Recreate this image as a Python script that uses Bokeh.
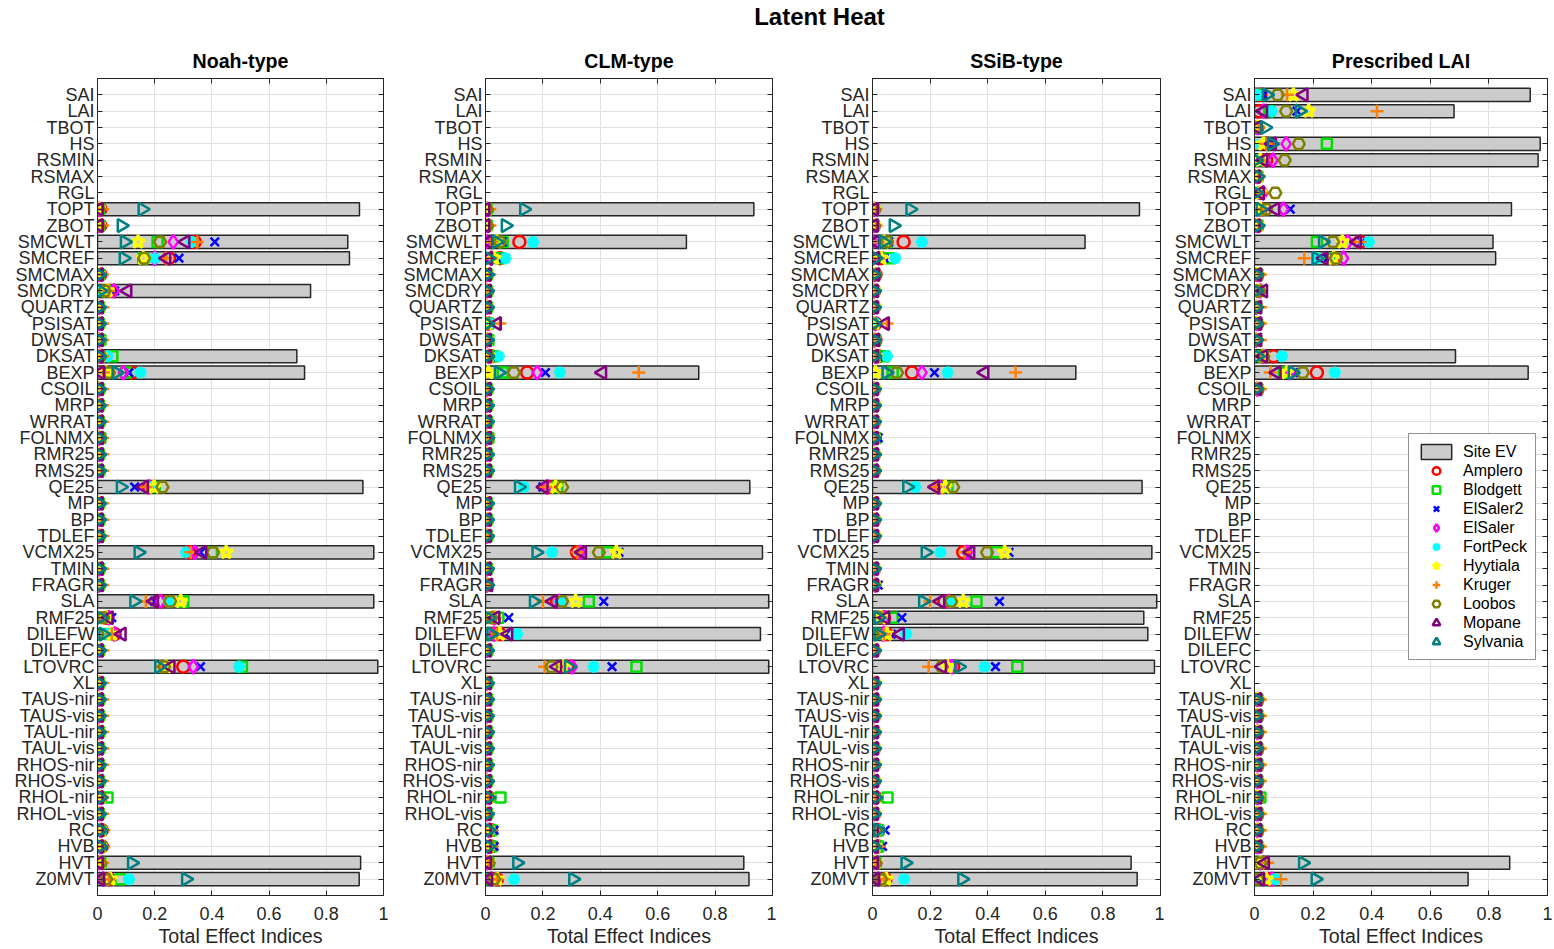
import math
from bokeh.plotting import figure
from bokeh.layouts import row, column
from bokeh.models import (Range1d, FactorRange, FixedTicker, CategoricalAxis, LinearAxis,
                          CustomJSTickFormatter, Legend, LegendItem, Label)
from bokeh.embed import file_html
from bokeh.resources import INLINE

NA = float("nan")

PARAMS = ["SAI", "LAI", "TBOT", "HS", "RSMIN", "RSMAX", "RGL",
          "TOPT", "ZBOT", "SMCWLT", "SMCREF", "SMCMAX", "SMCDRY", "QUARTZ",
          "PSISAT", "DWSAT", "DKSAT", "BEXP", "CSOIL", "MRP", "WRRAT",
          "FOLNMX", "RMR25", "RMS25", "QE25", "MP", "BP", "TDLEF",
          "VCMX25", "TMIN", "FRAGR", "SLA", "RMF25", "DILEFW", "DILEFC",
          "LTOVRC", "XL", "TAUS-nir", "TAUS-vis", "TAUL-nir", "TAUL-vis", "RHOS-nir",
          "RHOS-vis", "RHOL-nir", "RHOL-vis", "RC", "HVB", "HVT", "Z0MVT"]

SITES = ["Amplero", "Blodgett", "ElSaler2", "ElSaler", "FortPeck",
         "Hyytiala", "Kruger", "Loobos", "Mopane", "Sylvania"]
PANELS = ["Noah-type", "CLM-type", "SSiB-type", "Prescribed LAI"]
X_TICKS = [0, 0.2, 0.4, 0.6, 0.8, 1]

# ---------------- Noah-type ----------------
noah_ev = [NA, NA, NA, NA, NA, NA, NA,
           .916, NA, .875, .881, NA, .745, NA,
           NA, NA, .697, .724, NA, NA, NA,
           NA, NA, NA, .928, NA, NA, NA,
           .966, NA, NA, .966, NA, NA, NA,
           .980, NA, NA, NA, NA, NA, NA,
           NA, NA, NA, NA, NA, .920, .915]
noah_amplero = [NA, NA, NA, NA, NA, NA, NA,
                .010, .010, .340, .250, .010, .045, .005,
                .005, .005, .010, .120, .005, .005, .005,
                .005, .005, .005, .180, .005, .005, .005,
                .320, .005, .005, .220, .030, .060, .005,
                .300, .005, .005, .005, .005, .005, .005,
                .005, .010, .005, .015, .015, .010, .040]
noah_blodgett = [NA, NA, NA, NA, NA, NA, NA,
                 .005, .005, .210, .160, .005, .030, .005,
                 .005, .010, .052, .100, .005, .005, .005,
                 .010, .005, .005, .200, .005, .005, .005,
                 .400, .005, .005, .300, .020, .040, .005,
                 .505, .005, .005, .005, .005, .005, .005,
                 .005, .035, .005, .010, .010, .010, .080]
noah_elsaler2 = [NA, NA, NA, NA, NA, NA, NA,
                 .005, .005, .410, .285, .005, .060, .005,
                 .005, .005, .010, .110, .005, .005, .005,
                 .005, .005, .005, .130, .005, .005, .005,
                 .360, .005, .005, .200, .050, .070, .005,
                 .360, .005, .005, .005, .005, .005, .005,
                 .005, .010, .005, .015, .015, .010, .020]
noah_elsaler = [NA, NA, NA, NA, NA, NA, NA,
                .005, .005, .265, .200, .005, .058, .005,
                .005, .005, .010, .090, .005, .005, .005,
                .005, .005, .005, .180, .005, .005, .005,
                .340, .005, .005, .220, .040, .060, .005,
                .335, .005, .005, .005, .005, .005, .005,
                .005, .010, .005, .010, .010, .005, .020]
noah_fortpeck = [NA, NA, NA, NA, NA, NA, NA,
                 .005, .005, .330, .200, .005, .005, .005,
                 .005, .005, .035, .150, .005, .005, .005,
                 .005, .005, .005, .190, .005, .005, .005,
                 .310, .005, .005, .250, .030, .035, .005,
                 .495, .005, .005, .005, .005, .005, .005,
                 .005, .010, .005, .015, .010, .010, .110]
noah_hyytiala = [NA, NA, NA, NA, NA, NA, NA,
                 .005, .005, .142, .160, .005, .035, .005,
                 .005, .005, .010, .030, .005, .005, .005,
                 .005, .005, .005, .198, .005, .005, .005,
                 .450, .005, .005, .291, .030, .050, .005,
                 .240, .005, .005, .005, .005, .005, .005,
                 .005, .010, .005, .010, .010, .010, .045]
noah_kruger = [NA, NA, NA, NA, NA, NA, NA,
               .018, .018, .349, .240, .018, .040, .018,
               .018, .018, .018, .020, .018, .018, .018,
               .018, .018, .018, .170, .018, .018, .018,
               .326, .018, .018, .169, .020, .050, .018,
               .220, .018, .018, .018, .018, .018, .018,
               .018, .018, .018, .022, .022, .018, .040]
noah_loobos = [NA, NA, NA, NA, NA, NA, NA,
               .005, .005, .219, .163, .005, .025, .005,
               .005, .005, .010, .040, .005, .005, .005,
               .010, .005, .005, .227, .005, .005, .005,
               .404, .005, .005, .254, .020, .000, .005,
               .233, .005, .005, .005, .005, .005, .005,
               .005, .010, .005, .010, .010, .010, .030]
noah_mopane = [NA, NA, NA, NA, NA, NA, NA,
               .005, .005, .308, .241, .005, .105, .005,
               .005, .005, .005, .010, .005, .005, .005,
               .005, .005, .005, .163, .005, .005, .005,
               .367, .005, .005, .198, .040, .085, .005,
               .256, .005, .005, .005, .005, .005, .005,
               .005, .005, .005, .005, .005, .005, .010]
noah_sylvania = [NA, NA, NA, NA, NA, NA, NA,
                 .157, .084, .095, .091, .005, .010, .005,
                 .005, .005, .005, .066, .005, .005, .005,
                 .005, .005, .005, .081, .005, .005, .005,
                 .143, .005, .005, .128, .010, .020, .005,
                 .215, .005, .005, .005, .005, .005, .005,
                 .005, .010, .005, .010, .010, .120, .309]

# ---------------- CLM-type ----------------
clm_ev = [NA, NA, NA, NA, NA, NA, NA,
          .935, NA, .700, NA, NA, NA, NA,
          NA, NA, NA, .743, NA, NA, NA,
          NA, NA, NA, .921, NA, NA, NA,
          .965, NA, NA, .987, NA, .958, NA,
          .987, NA, NA, NA, NA, NA, NA,
          NA, NA, NA, NA, NA, .900, .918]
clm_amplero = [NA, NA, NA, NA, NA, NA, NA,
               .005, .005, .118, .050, .005, .005, .005,
               .010, .005, .020, .145, .005, .005, .005,
               .005, .005, .005, .220, .005, .005, .005,
               .319, .005, .005, .250, .030, .050, .005,
               .285, .005, .005, .005, .005, .005, .005,
               .005, .010, .005, .020, .020, .010, .040]
clm_blodgett = [NA, NA, NA, NA, NA, NA, NA,
                .005, .005, .060, .050, .005, .005, .005,
                .010, .010, .030, .060, .005, .005, .005,
                .010, .005, .005, .250, .005, .005, .005,
                .424, .005, .005, .360, .045, .000, .005,
                .526, .005, .005, .005, .005, .005, .005,
                .005, .052, .005, .020, .020, .010, .020]
clm_elsaler2 = [NA, NA, NA, NA, NA, NA, NA,
                .005, .005, .058, .040, .005, .005, .005,
                .010, .005, .020, .209, .005, .005, .005,
                .005, .005, .005, .200, .005, .005, .005,
                .465, .005, .005, .412, .081, .070, .005,
                .441, .005, .005, .005, .005, .005, .005,
                .005, .010, .005, .030, .030, .010, .020]
clm_elsaler = [NA, NA, NA, NA, NA, NA, NA,
               .005, .005, .000, .020, .005, .005, .005,
               .010, .005, .010, .180, .005, .005, .005,
               .005, .005, .005, .215, .005, .005, .005,
               .330, .005, .005, .256, .030, .030, .005,
               .302, .005, .005, .005, .005, .005, .005,
               .005, .010, .005, .010, .010, .005, .020]
clm_fortpeck = [NA, NA, NA, NA, NA, NA, NA,
                .005, .005, .166, .070, .005, .005, .005,
                .015, .005, .046, .259, .005, .005, .005,
                .005, .005, .005, .134, .005, .005, .005,
                .232, .005, .005, .260, .030, .110, .005,
                .377, .005, .005, .005, .005, .005, .005,
                .005, .010, .005, .015, .010, .010, .100]
clm_hyytiala = [NA, NA, NA, NA, NA, NA, NA,
                .005, .005, .040, .030, .005, .005, .005,
                .005, .005, .010, .010, .005, .005, .005,
                .005, .005, .005, .244, .005, .005, .005,
                .456, .005, .005, .314, .030, .050, .005,
                .270, .005, .005, .005, .005, .005, .005,
                .005, .010, .005, .010, .010, .010, .041]
clm_kruger = [NA, NA, NA, NA, NA, NA, NA,
              .015, .015, .020, .020, .015, .010, .010,
              .050, .010, .010, .534, .010, .010, .010,
              .010, .010, .010, .210, .010, .010, .010,
              .320, .010, .010, .200, .030, .040, .010,
              .206, .010, .010, .010, .010, .010, .010,
              .010, .010, .010, .020, .020, .010, .040]
clm_loobos = [NA, NA, NA, NA, NA, NA, NA,
              .005, .005, .050, .005, .005, .005, .005,
              .000, .005, .010, .099, .005, .005, .005,
              .010, .005, .005, .267, .005, .005, .005,
              .395, .005, .005, .267, .020, .010, .005,
              .230, .005, .005, .005, .005, .005, .005,
              .005, .010, .005, .010, .010, .010, .030]
clm_mopane = [NA, NA, NA, NA, NA, NA, NA,
              .000, .000, .010, .010, .005, .005, .005,
              .040, .005, .005, .407, .005, .005, .005,
              .005, .005, .005, .203, .005, .005, .005,
              .337, .005, .010, .235, .035, .080, .005,
              .250, .005, .005, .005, .005, .005, .005,
              .005, .005, .005, .005, .005, .005, .010]
clm_sylvania = [NA, NA, NA, NA, NA, NA, NA,
                .134, .070, .038, .010, .005, .005, .005,
                .005, .005, .005, .046, .005, .005, .005,
                .005, .005, .005, .116, .005, .005, .005,
                .177, .005, .005, .168, .010, .020, .005,
                .290, .005, .005, .005, .005, .005, .005,
                .005, .010, .005, .010, .010, .110, .305]

# ---------------- SSiB-type ----------------
ssib_ev = [NA, NA, NA, NA, NA, NA, NA,
           .927, NA, .738, NA, NA, NA, NA,
           NA, NA, NA, .706, NA, NA, NA,
           NA, NA, NA, .936, NA, NA, NA,
           .970, NA, NA, .987, .942, .956, NA,
           .979, NA, NA, NA, NA, NA, NA,
           NA, NA, NA, NA, NA, .898, .919]
ssib_amplero = [NA, NA, NA, NA, NA, NA, NA,
                .005, .005, .108, .030, .010, .005, .005,
                .010, .010, .020, .137, .005, .005, .005,
                .005, .005, .005, .240, .005, .005, .005,
                .315, .005, .005, .250, .040, .050, .005,
                .280, .005, .005, .005, .005, .005, .005,
                .005, .010, .005, .020, .020, .010, .045]
ssib_blodgett = [NA, NA, NA, NA, NA, NA, NA,
                 .005, .005, .050, .060, .005, .005, .005,
                 .000, .010, .040, .070, .005, .005, .005,
                 .010, .005, .005, .260, .005, .005, .005,
                 .431, .005, .005, .361, .070, .030, .005,
                 .503, .005, .005, .005, .005, .005, .005,
                 .005, .052, .005, .020, .020, .010, .030]
ssib_elsaler2 = [NA, NA, NA, NA, NA, NA, NA,
                 .005, .005, .056, .040, .005, .005, .005,
                 .010, .005, .020, .215, .005, .005, .005,
                 .020, .005, .005, .230, .005, .005, .005,
                 .474, .005, .020, .441, .102, .065, .005,
                 .427, .005, .005, .005, .005, .005, .005,
                 .005, .010, .005, .044, .035, .010, .020]
ssib_elsaler = [NA, NA, NA, NA, NA, NA, NA,
                .005, .005, .000, .000, .005, .005, .005,
                .010, .005, .010, .172, .005, .005, .005,
                .005, .005, .005, .230, .005, .005, .005,
                .330, .005, .010, .265, .040, .038, .005,
                .276, .005, .005, .005, .005, .005, .005,
                .005, .010, .005, .000, .010, .005, .020]
ssib_fortpeck = [NA, NA, NA, NA, NA, NA, NA,
                 .005, .005, .172, .079, .005, .005, .005,
                 .010, .005, .050, .261, .005, .005, .005,
                 .005, .005, .005, .149, .005, .005, .005,
                 .236, .005, .005, .270, .030, .117, .005,
                 .389, .005, .005, .005, .005, .005, .005,
                 .005, .010, .005, .020, .010, .010, .110]
ssib_hyytiala = [NA, NA, NA, NA, NA, NA, NA,
                 .005, .005, .040, .030, .005, .005, .005,
                 .005, .005, .010, .010, .005, .005, .005,
                 .005, .005, .005, .253, .005, .005, .005,
                 .459, .005, .005, .315, .030, .050, .005,
                 .260, .005, .005, .005, .005, .005, .005,
                 .005, .010, .005, .010, .010, .010, .048]
ssib_kruger = [NA, NA, NA, NA, NA, NA, NA,
               .012, .012, .020, .020, .015, .010, .010,
               .050, .010, .010, .497, .010, .010, .010,
               .010, .010, .010, .220, .010, .010, .010,
               .320, .010, .010, .200, .030, .040, .010,
               .195, .010, .010, .010, .010, .010, .010,
               .010, .010, .010, .020, .020, .010, .040]
ssib_loobos = [NA, NA, NA, NA, NA, NA, NA,
               .005, .005, .050, .010, .005, .005, .005,
               .000, .005, .010, .085, .005, .005, .005,
               .005, .005, .005, .280, .005, .005, .005,
               .398, .005, .005, .273, .020, .000, .005,
               .240, .005, .005, .005, .005, .005, .005,
               .005, .010, .005, .010, .005, .010, .030]
ssib_mopane = [NA, NA, NA, NA, NA, NA, NA,
               .005, .005, .010, .010, .010, .005, .005,
               .044, .010, .005, .389, .005, .005, .005,
               .005, .005, .005, .218, .005, .005, .005,
               .340, .005, .005, .236, .045, .096, .005,
               .242, .005, .005, .005, .005, .005, .005,
               .005, .005, .005, .005, .005, .005, .010]
ssib_sylvania = [NA, NA, NA, NA, NA, NA, NA,
                 .131, .073, .038, .010, .005, .005, .005,
                 .005, .005, .005, .048, .005, .005, .005,
                 .005, .005, .005, .120, .005, .005, .005,
                 .184, .005, .000, .175, .020, .020, .005,
                 .300, .005, .005, .005, .005, .005, .005,
                 .005, .010, .005, .020, .005, .114, .311]

# ---------------- Prescribed LAI ----------------
plai_ev = [.941, .681, NA, .975, .968, NA, NA,
           .877, NA, .814, .823, NA, NA, NA,
           NA, NA, .686, .934, NA, NA, NA,
           NA, NA, NA, NA, NA, NA, NA,
           NA, NA, NA, NA, NA, NA, NA,
           NA, NA, NA, NA, NA, NA, NA,
           NA, NA, NA, NA, NA, .871, .729]
plai_amplero = [.020, .014, .010, .042, .040, .010, .020,
                .020, .010, .360, .270, .010, .015, .005,
                .010, .005, .065, .213, .010, NA, NA,
                NA, NA, NA, NA, NA, NA, NA,
                NA, NA, NA, NA, NA, NA, NA,
                NA, NA, .010, .010, .010, .010, .010,
                .010, .010, .010, .010, .010, .030, .054]
plai_blodgett = [.010, .050, .000, .247, .020, .010, .015,
                 .015, .010, .213, .259, .010, .015, .005,
                 .005, .005, .030, .100, .010, NA, NA,
                 NA, NA, NA, NA, NA, NA, NA,
                 NA, NA, NA, NA, NA, NA, NA,
                 NA, NA, .010, .010, .010, .010, .010,
                 .010, .020, .010, .010, .010, .020, .000]
plai_elsaler2 = [.030, .145, .010, .050, .020, .010, .020,
                 .122, .010, .367, .250, .010, .015, .005,
                 .010, .005, .030, .133, .010, NA, NA,
                 NA, NA, NA, NA, NA, NA, NA,
                 NA, NA, NA, NA, NA, NA, NA,
                 NA, NA, .010, .010, .010, .010, .010,
                 .010, .010, .010, .010, .010, .020, .030]
plai_elsaler = [.000, .031, .010, .108, .063, .010, .030,
                .099, .010, .318, .304, .010, .020, .005,
                .010, .005, .030, .120, .010, NA, NA,
                NA, NA, NA, NA, NA, NA, NA,
                NA, NA, NA, NA, NA, NA, NA,
                NA, NA, .010, .010, .010, .010, .010,
                .010, .010, .010, .010, .010, .020, .060]
plai_fortpeck = [.008, .059, .010, .000, .010, .010, .010,
                 .020, .010, .390, .215, .010, .010, .005,
                 .010, .005, .094, .274, .010, NA, NA,
                 NA, NA, NA, NA, NA, NA, NA,
                 NA, NA, NA, NA, NA, NA, NA,
                 NA, NA, .005, .005, .005, .005, .005,
                 .005, .010, .005, .010, .010, .020, .071]
plai_hyytiala = [.133, .185, .010, .030, .020, .010, .020,
                 .020, .010, .300, .270, .010, .015, .005,
                 .010, .005, .030, .110, .010, NA, NA,
                 NA, NA, NA, NA, NA, NA, NA,
                 NA, NA, NA, NA, NA, NA, NA,
                 NA, NA, .010, .010, .010, .010, .010,
                 .010, .010, .010, .010, .010, .020, .040]
plai_kruger = [.111, .418, .015, .040, .030, .015, .030,
               .030, .015, .360, .170, .020, .020, .020,
               .020, .020, .030, .054, .020, NA, NA,
               NA, NA, NA, NA, NA, NA, NA,
               NA, NA, NA, NA, NA, NA, NA,
               NA, NA, .020, .020, .020, .020, .020,
               .020, .015, .020, .020, .020, .045, .090]
plai_loobos = [.079, .108, .010, .151, .103, .010, .071,
               .040, .010, .268, .278, .010, .015, .005,
               .010, .005, .030, .165, .010, NA, NA,
               NA, NA, NA, NA, NA, NA, NA,
               NA, NA, NA, NA, NA, NA, NA,
               NA, NA, .010, .010, .010, .010, .010,
               .010, .010, .010, .010, .010, .020, .010]
plai_mopane = [.168, .030, .010, .060, .031, .005, .019,
               .071, .005, .350, .236, .010, .030, .010,
               .010, .010, .030, .076, .010, NA, NA,
               NA, NA, NA, NA, NA, NA, NA,
               NA, NA, NA, NA, NA, NA, NA,
               NA, NA, .010, .010, .010, .010, .010,
               .010, .010, .010, .010, .010, .036, .020]
plai_sylvania = [.042, .154, .036, .059, .005, .010, .005,
                 .020, .010, .233, .211, .005, .005, .005,
                 .005, .005, .010, .130, .005, NA, NA,
                 NA, NA, NA, NA, NA, NA, NA,
                 NA, NA, NA, NA, NA, NA, NA,
                 NA, NA, .005, .005, .005, .005, .005,
                 .005, .005, .005, .005, .005, .165, .208]

PANEL_DATA = {
    "Noah-type": (noah_ev, [noah_amplero, noah_blodgett, noah_elsaler2, noah_elsaler, noah_fortpeck,
                            noah_hyytiala, noah_kruger, noah_loobos, noah_mopane, noah_sylvania]),
    "CLM-type": (clm_ev, [clm_amplero, clm_blodgett, clm_elsaler2, clm_elsaler, clm_fortpeck,
                          clm_hyytiala, clm_kruger, clm_loobos, clm_mopane, clm_sylvania]),
    "SSiB-type": (ssib_ev, [ssib_amplero, ssib_blodgett, ssib_elsaler2, ssib_elsaler, ssib_fortpeck,
                            ssib_hyytiala, ssib_kruger, ssib_loobos, ssib_mopane, ssib_sylvania]),
    "Prescribed LAI": (plai_ev, [plai_amplero, plai_blodgett, plai_elsaler2, plai_elsaler, plai_fortpeck,
                                 plai_hyytiala, plai_kruger, plai_loobos, plai_mopane, plai_sylvania]),
}

# marker styling per site
MARKERS = ["circle", "square", "x", "diamond", "asterisk", "star", "cross", "hex", "triangle", "triangle"]
ANGLES = [0, 0, 0, 0, 0, 0, 0, 0, math.pi / 2, -math.pi / 2]
SIZES = [12, 10, 12, 14, 12, 14, 13, 12, 13, 13]
WIDTHS = [2.5, 2.5, 2.5, 2.5, 3.5, 3.0, 2.5, 2.5, 2.5, 2.5]
COLORS = ["#ff0000", "#00e000", "#0000ff", "#ff00ff", "#00ffff",
          "#ffff00", "#ff8000", "#808000", "#800080", "#008080"]

FONT = "Liberation Sans"
AX_COLOR = "#262626"
GRID_COLOR = "#e0e0e0"
BLANK = "return ''"

# figure geometry: (width, left border, right border)
GEOM = [(388, 97, 5), (388, 97, 4), (388, 96, 4), (390, 90, 7)]
PANEL_H = 913

figs = []
for k, name in enumerate(PANELS):
    ev, site_vals = PANEL_DATA[name]
    w, lb, rb = GEOM[k]
    p = figure(width=w, height=PANEL_H, output_backend="svg", toolbar_location=None,
               x_range=Range1d(0, 1),
               y_range=FactorRange(factors=PARAMS[::-1], range_padding=0.5,
                                   range_padding_units="absolute"),
               min_border_left=lb, min_border_right=rb, min_border_top=42, min_border_bottom=53,
               background_fill_color="white", border_fill_color="white",
               outline_line_color=AX_COLOR, outline_line_width=1)

    p.title.text = name
    p.title.align = "center"
    p.title.text_font = FONT
    p.title.text_font_size = "19.6px"
    p.title.text_font_style = "bold"
    p.title.text_color = "#000000"
    p.title.standoff = 13

    # bottom x axis
    xa = p.xaxis[0]
    xa.ticker = FixedTicker(ticks=X_TICKS)
    xa.formatter = CustomJSTickFormatter(code="return tick.toString()")
    xa.axis_label = "Total Effect Indices"
    xa.axis_label_text_font = FONT
    xa.axis_label_text_font_size = "19.6px"
    xa.axis_label_text_font_style = "normal"
    xa.axis_label_text_color = AX_COLOR
    xa.axis_label_standoff = 2
    xa.major_label_text_font = FONT
    xa.major_label_text_font_size = "18px"
    xa.major_label_text_color = AX_COLOR
    xa.major_label_standoff = 11
    xa.major_tick_in = 5
    xa.major_tick_out = 0
    xa.minor_tick_in = 0
    xa.minor_tick_out = 0
    xa.axis_line_color = AX_COLOR
    xa.major_tick_line_color = AX_COLOR

    # left y axis
    ya = p.yaxis[0]
    ya.major_label_text_font = FONT
    ya.major_label_text_font_size = "18px"
    ya.major_label_text_color = AX_COLOR
    ya.major_label_standoff = 3
    ya.major_tick_in = 5
    ya.major_tick_out = 0
    ya.axis_line_color = AX_COLOR
    ya.major_tick_line_color = AX_COLOR

    # mirrored axes (tick marks only, no labels drawn)
    ra = CategoricalAxis(formatter=CustomJSTickFormatter(code=BLANK),
                         major_label_text_font_size="1px", major_label_text_color=None,
                         major_label_standoff=0, major_tick_in=5, major_tick_out=0,
                         axis_line_color=AX_COLOR, major_tick_line_color=AX_COLOR)
    p.add_layout(ra, "right")
    ta = LinearAxis(ticker=FixedTicker(ticks=X_TICKS), formatter=CustomJSTickFormatter(code=BLANK),
                    major_label_text_font_size="1px", major_label_text_color=None,
                    major_label_standoff=0, major_tick_in=5, major_tick_out=0,
                    minor_tick_in=0, minor_tick_out=0,
                    axis_line_color=AX_COLOR, major_tick_line_color=AX_COLOR)
    p.add_layout(ta, "above")

    p.xgrid.ticker = FixedTicker(ticks=X_TICKS)
    p.xgrid.grid_line_color = GRID_COLOR
    p.ygrid.grid_line_color = GRID_COLOR

    bar = p.hbar(y=PARAMS, left=0, right=ev, height=0.8,
                 fill_color="#cccccc", line_color=AX_COLOR, line_width=1.5)

    rends = []
    for s in range(len(SITES)):
        r = p.scatter(x=site_vals[s], y=PARAMS, marker=MARKERS[s], size=SIZES[s],
                      angle=ANGLES[s], fill_color=None, line_color=COLORS[s],
                      line_width=WIDTHS[s])
        rends.append(r)

    if name == "Prescribed LAI":
        items = [LegendItem(label="Site EV", renderers=[bar])]
        for s, site in enumerate(SITES):
            items.append(LegendItem(label=site, renderers=[rends[s]]))
        legend = Legend(items=items, location=(154, 235),
                        border_line_color=AX_COLOR, border_line_width=1,
                        background_fill_color="white", background_fill_alpha=1.0,
                        label_text_font=FONT, label_text_font_size="16px",
                        label_text_color="#000000",
                        glyph_width=38, glyph_height=19, label_height=19,
                        spacing=0, padding=8, margin=0, label_standoff=8)
        p.add_layout(legend)
    figs.append(p)

title_fig = figure(width=1554, height=36, output_backend="svg", toolbar_location=None,
                   x_range=Range1d(0, 1), y_range=Range1d(0, 1),
                   x_axis_location=None, y_axis_location=None,
                   min_border=0, outline_line_color=None)
title_fig.grid.visible = False
title_fig.add_layout(Label(x=819 / 1554, y=0.55, text="Latent Heat", text_align="center",
                           text_baseline="middle", text_font=FONT, text_font_size="24px",
                           text_font_style="bold", text_color="#000000"))

layout = column(title_fig, row(*figs, spacing=0), spacing=0)

with open("out.html", "w") as f:
    f.write(file_html(layout, INLINE))
